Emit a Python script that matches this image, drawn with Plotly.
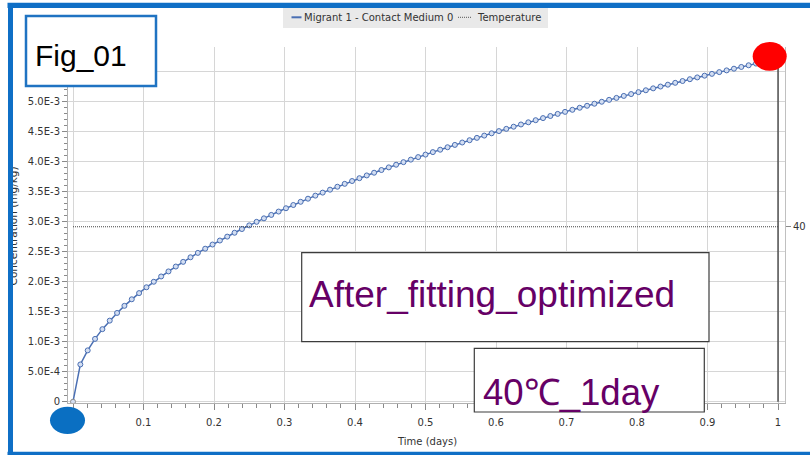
import plotly.graph_objects as go

# ---------------- data ----------------
# time grid: one point every 15 minutes over one day
time_days = [i / 96 for i in range(97)]
# migrant concentration in contact medium, in units of 1E-3 mg/kg
conc_e3 = [0.000, 0.620, 0.854, 1.045, 1.207, 1.349, 1.477, 1.595, 1.704, 1.807,
           1.904, 1.996, 2.084, 2.168, 2.249, 2.327, 2.403, 2.476, 2.546, 2.615,
           2.682, 2.747, 2.811, 2.873, 2.934, 2.993, 3.051, 3.108, 3.164, 3.219,
           3.273, 3.326, 3.378, 3.429, 3.479, 3.528, 3.577, 3.625, 3.672, 3.719,
           3.765, 3.810, 3.855, 3.899, 3.943, 3.986, 4.028, 4.070, 4.112, 4.153,
           4.193, 4.234, 4.273, 4.313, 4.351, 4.390, 4.428, 4.466, 4.503, 4.540,
           4.576, 4.613, 4.649, 4.684, 4.719, 4.754, 4.789, 4.823, 4.857, 4.891,
           4.924, 4.958, 4.991, 5.023, 5.055, 5.088, 5.119, 5.151, 5.182, 5.214,
           5.244, 5.275, 5.306, 5.336, 5.366, 5.396, 5.425, 5.455, 5.484, 5.513,
           5.541, 5.570, 5.598, 5.626, 5.655, 5.682, 5.710]
conc = [v * 1e-3 for v in conc_e3]

temp_time = [0.0, 1.0]
temp_c = [40, 40]

series_names = ["Migrant 1 - Contact Medium 0", "Temperature"]

y_tick_vals = [0, 0.5e-3, 1.0e-3, 1.5e-3, 2.0e-3, 2.5e-3, 3.0e-3,
               3.5e-3, 4.0e-3, 4.5e-3, 5.0e-3, 5.5e-3]
y_tick_text = ["0", "5.0E-4", "1.0E-3", "1.5E-3", "2.0E-3", "2.5E-3", "3.0E-3",
               "3.5E-3", "4.0E-3", "4.5E-3", "5.0E-3", "5.5E-3"]
x_tick_vals = [0, 0.1, 0.2, 0.3, 0.4, 0.5, 0.6, 0.7, 0.8, 0.9, 1]
x_tick_text = ["0", "0.1", "0.2", "0.3", "0.4", "0.5", "0.6", "0.7", "0.8", "0.9", "1"]
y2_tick_vals = [40]

# ---------------- geometry helpers ----------------
W, H = 810, 455
ML, MR, MT, MB = 68, 25, 47, 52
PW = W - ML - MR
PH = H - MT - MB


def px(x):
    return (x - ML) / PW


def py(y):
    return (H - MB - y) / PH


LINE_BLUE = "#4a6fb3"
FRAME_BLUE = "#0f6fc6"
PURPLE = "#660066"
TXT = "#333333"
TICKFONT = dict(family="DejaVu Sans", size=10, color=TXT)

fig = go.Figure()

fig.add_trace(go.Scatter(
    x=time_days, y=conc, mode="lines+markers", name=series_names[0],
    line=dict(color=LINE_BLUE, width=1.5),
    marker=dict(symbol="circle", size=5, color="#d3def2",
                line=dict(width=1, color=["#8c8c8c"] + [LINE_BLUE] * (len(conc) - 1))),
    showlegend=False,
))
fig.add_trace(go.Scatter(
    x=temp_time, y=temp_c, mode="lines", name=series_names[1], yaxis="y2",
    line=dict(color="#444444", width=1, dash="1px,1px"), showlegend=False,
))
# vertical cursor at end of run
fig.add_trace(go.Scatter(
    x=[time_days[-1], time_days[-1]], y=[0, conc[-1]], mode="lines",
    line=dict(color="#3a3a3a", width=1.3), showlegend=False, hoverinfo="skip",
))

fig.update_layout(
    width=W, height=H,
    margin=dict(l=ML, r=MR, t=MT, b=MB, autoexpand=False),
    paper_bgcolor="white", plot_bgcolor="white",
    showlegend=False,
    xaxis=dict(
        range=[-0.0071, 1.0099], tickmode="array", tickvals=x_tick_vals, ticktext=x_tick_text,
        showgrid=True, gridcolor="#d6d6d6", gridwidth=1,
        showline=True, linecolor="#b0b0b0", linewidth=1,
        ticks="outside", ticklen=6, tickcolor="#8a8a8a",
        minor=dict(tickmode="linear", tick0=0, dtick=0.02, ticks="outside", ticklen=4,
                   tickcolor="#8a8a8a", showgrid=False),
        tickfont=TICKFONT, ticklabelstandoff=4, zeroline=False, automargin=False,
    ),
    yaxis=dict(
        range=[-0.0000216, 0.005902], tickmode="array", tickvals=y_tick_vals, ticktext=y_tick_text,
        showgrid=True, gridcolor="#d6d6d6", gridwidth=1,
        showline=True, linecolor="#b0b0b0", linewidth=1,
        ticks="outside", ticklen=5, tickcolor="#8a8a8a",
        minor=dict(tickmode="linear", tick0=0, dtick=1e-4, ticks="outside", ticklen=3,
                   tickcolor="#8a8a8a", showgrid=False),
        tickfont=TICKFONT, zeroline=False, automargin=False,
    ),
    yaxis2=dict(
        overlaying="y", side="right", range=[0, 80.8],
        tickmode="array", tickvals=y2_tick_vals,
        showgrid=False, zeroline=False,
        showline=True, linecolor="#c0c0c0", linewidth=1,
        ticks="outside", ticklen=5, tickcolor="#8a8a8a",
        tickfont=TICKFONT, automargin=False,
    ),
)

shapes = []
# legend background and symbols
shapes.append(dict(type="rect", xref="paper", yref="paper", x0=px(283), x1=px(548),
                   y0=py(28), y1=py(8), fillcolor="#e9e9e9", line=dict(width=0), layer="above"))
shapes.append(dict(type="line", xref="paper", yref="paper", x0=px(291.5), x1=px(301.5),
                   y0=py(17.3), y1=py(17.3), line=dict(color=LINE_BLUE, width=2), layer="above"))
shapes.append(dict(type="line", xref="paper", yref="paper", x0=px(458), x1=px(472),
                   y0=py(17.3), y1=py(17.3), line=dict(color="#555555", width=1, dash="1px,1px"),
                   layer="above"))
# text boxes
shapes.append(dict(type="rect", xref="paper", yref="paper", x0=px(26), x1=px(156),
                   y0=py(86), y1=py(16), fillcolor="white",
                   line=dict(color="#1f73c2", width=2.5), layer="above"))
shapes.append(dict(type="rect", xref="paper", yref="paper", x0=px(301.7), x1=px(709),
                   y0=py(341.7), y1=py(252.7), fillcolor="white",
                   line=dict(color="#3c3c3c", width=1.2), layer="above"))
shapes.append(dict(type="rect", xref="paper", yref="paper", x0=px(474.3), x1=px(704.3),
                   y0=py(412), y1=py(348.3), fillcolor="white",
                   line=dict(color="#3c3c3c", width=1.2), layer="above"))
# marker dots
shapes.append(dict(type="circle", xref="paper", yref="paper", x0=px(752.7), x1=px(786.7),
                   y0=py(70.7), y1=py(42), fillcolor="#ff0000", line=dict(width=0), layer="above"))
shapes.append(dict(type="circle", xref="paper", yref="paper", x0=px(50), x1=px(85),
                   y0=py(434), y1=py(406.7), fillcolor="#0a6fc2", line=dict(width=0), layer="above"))
# outer blue frame (top and bottom bars; kept inside the page)
shapes.append(dict(type="line", xref="paper", yref="paper", x0=px(7.5), x1=px(810),
                   y0=py(5.4), y1=py(5.4), line=dict(color=FRAME_BLUE, width=5.3), layer="above"))
shapes.append(dict(type="line", xref="paper", yref="paper", x0=px(7.5), x1=px(810),
                   y0=py(453.3), y1=py(453.3), line=dict(color=FRAME_BLUE, width=3.2), layer="above"))
fig.update_layout(shapes=shapes)

ann = []
# y-axis title (partly hidden behind the frame)
ann.append(dict(text="Concentration (mg/kg)", textangle=-90, xref="paper", yref="paper",
                x=px(13.4), y=py(226), xanchor="center", yanchor="middle", showarrow=False,
                font=dict(family="DejaVu Sans", size=10.5, color=TXT)))
# left frame bar drawn over the title
ann.append(dict(text=" ", xref="paper", yref="paper", x=px(10.2), y=py(229),
                xanchor="center", yanchor="middle", showarrow=False,
                width=5, height=452, bgcolor=FRAME_BLUE, borderpad=0, borderwidth=0))
# x-axis title
ann.append(dict(text="Time (days)", xref="paper", yref="paper", x=px(427.5), y=py(441),
                xanchor="center", yanchor="middle", showarrow=False, font=TICKFONT))
# legend texts
ann.append(dict(text=series_names[0], xref="paper", yref="paper", x=px(303), y=py(17.3),
                xanchor="left", yanchor="middle", showarrow=False, borderpad=0, font=TICKFONT))
ann.append(dict(text=series_names[1], xref="paper", yref="paper", x=px(476.5), y=py(17.3),
                xanchor="left", yanchor="middle", showarrow=False, borderpad=0, font=TICKFONT))
# box texts
ann.append(dict(text="Fig_01", xref="paper", yref="paper", x=px(34), y=py(55),
                xanchor="left", yanchor="middle", showarrow=False, borderpad=0,
                font=dict(family="Liberation Sans", size=30, color="black")))
ann.append(dict(text="After_fitting_optimized", xref="paper", yref="paper", x=px(308), y=py(294.0),
                xanchor="left", yanchor="middle", showarrow=False, borderpad=0,
                font=dict(family="Liberation Sans", size=37, color=PURPLE)))
ann.append(dict(text="40℃_1day", xref="paper", yref="paper", x=px(481.5), y=py(392.3),
                xanchor="left", yanchor="middle", showarrow=False, borderpad=0,
                font=dict(family="Liberation Sans", size=36.6, color=PURPLE)))
fig.update_layout(annotations=ann)

page_fix = (
    "document.body.style.margin='0px';"
    "document.body.style.overflow='hidden';"
)
fig.write_html("out.html", config={"displayModeBar": False}, post_script=page_fix)
